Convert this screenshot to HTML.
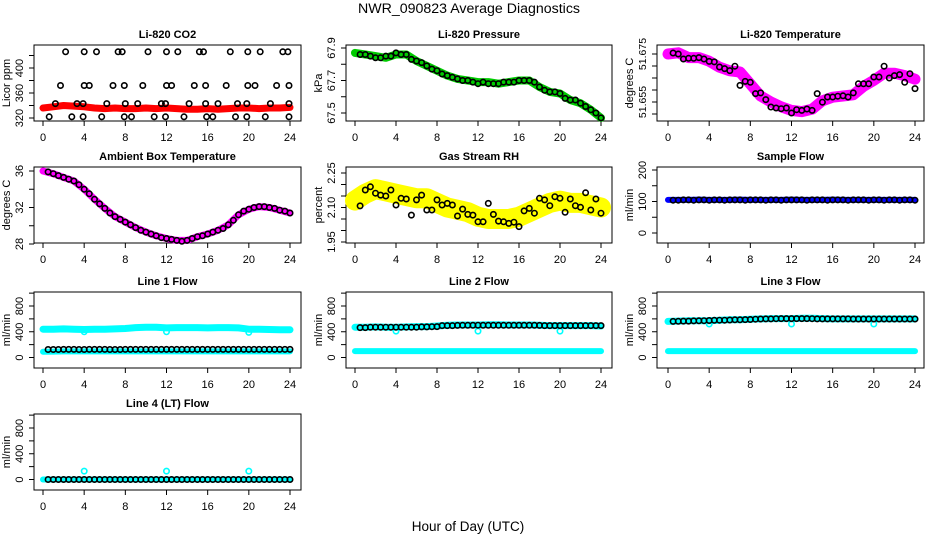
<!DOCTYPE html>
<html><head><meta charset="utf-8"><style>
html,body{margin:0;padding:0;background:#fff}
svg{display:block}
text{font-family:"Liberation Sans",sans-serif;fill:#000}
</style></head><body>
<svg id="chart" width="936" height="540" viewBox="0 0 936 540" xmlns="http://www.w3.org/2000/svg">
<rect width="936" height="540" fill="#fff"/>
<text x="469" y="13" font-size="13.5" text-anchor="middle" textLength="222" lengthAdjust="spacingAndGlyphs">NWR_090823  Average Diagnostics</text>
<text x="468" y="531" font-size="13.5" text-anchor="middle">Hour of Day (UTC)</text>
</svg>
<script>
// ---- data ----
const halfHours = [];
for (let k = 1; k <= 48; k++) halfHours.push(k * 0.5);
const hours = [];
for (let k = 0; k <= 24; k++) hours.push(k);
const xTicks = [0,4,8,12,16,20,24];

// CO2
const co2BlackX = [2.2,4,5.2,7.3,7.7,10.2,12,13.1,15.2,15.6,18.2,19.9,21.1,23.3,23.8,
  1.7,4,4.5,6.8,7.9,9.7,12,12.5,14.7,15.8,17.8,19.9,20.6,22.7,23.9,
  1.2,3.3,3.9,6.2,8,9.2,11.5,11.9,14.2,15.8,17,18.9,19.8,22.1,23.9,
  0.6,2.8,3.9,5.7,7.9,8.6,10.8,11.9,13.7,15.9,16.5,18.7,19.8,21.6,23.9];
const co2BlackY = [426,426,426,426,426,426,426,426,426,426,426,426,426,426,426,
  372,372,372,372,372,372,372,372,372,372,372,372,372,372,372,
  343,343,343,343,343,343,343,343,343,343,343,343,343,343,343,
  322,322,322,322,322,322,322,322,322,322,322,322,322,322,322];
const co2Band = [336,338,340,339,338,336,335,336,335,335,336,335,336,335,334,334,335,334,335,336,336,335,336,336,337];

// Pressure
const pressBlack = [67.86,67.86,67.85,67.84,67.84,67.85,67.85,67.87,67.86,67.86,67.83,67.82,67.81,67.79,67.77,67.76,
  67.74,67.73,67.72,67.71,67.70,67.70,67.69,67.68,67.69,67.68,67.68,67.68,67.69,67.69,67.69,67.70,
  67.70,67.70,67.69,67.66,67.64,67.63,67.63,67.62,67.59,67.58,67.58,67.56,67.54,67.52,67.50,67.47];
const pressBand = [67.87,67.86,67.85,67.84,67.86,67.86,67.82,67.79,67.76,67.73,67.71,67.70,67.69,67.69,67.68,67.69,67.70,67.70,67.66,67.63,67.62,67.58,67.56,67.52,67.47];

// Li-820 temperature
const tempBlack = [51.6754,51.6750,51.6729,51.6732,51.6732,51.6735,51.6729,51.6719,51.6717,51.6696,51.6689,51.6681,51.6699,51.6619,51.6636,51.6632,
  51.6585,51.6588,51.6560,51.6529,51.6525,51.6522,51.6525,51.6504,51.6518,51.6515,51.6521,51.6515,51.6585,51.6549,51.6571,51.6571,
  51.6574,51.6576,51.6571,51.6588,51.6626,51.6626,51.6626,51.6654,51.6654,51.6699,51.6650,51.6660,51.6664,51.6632,51.6668,51.6606];
const tempBand = [51.6750,51.6755,51.6735,51.6735,51.6720,51.6695,51.6680,51.6675,51.6625,51.6575,51.6550,51.6530,51.6515,51.6510,51.6520,51.6555,51.6570,51.6575,51.6580,51.6615,51.6640,51.6670,51.6670,51.6660,51.6645];

// Ambient box temperature
const ambBlack = [35.9,35.7,35.5,35.3,35.1,34.9,34.5,34.0,33.5,32.9,32.4,31.9,31.4,31.0,30.7,30.4,
  30.1,29.8,29.5,29.3,29.1,28.9,28.7,28.6,28.5,28.4,28.3,28.4,28.6,28.8,28.9,29.1,
  29.3,29.5,29.7,30.1,30.6,31.2,31.6,31.8,32.0,32.1,32.1,32.0,31.9,31.7,31.6,31.4];
const ambBand = [36.0,35.7,35.3,34.9,34.0,32.9,31.9,31.0,30.4,29.8,29.3,28.9,28.6,28.4,28.4,28.8,29.1,29.5,30.1,31.2,31.8,32.1,32.0,31.7,31.4];

// Gas stream RH
const rhBlack = [2.107,2.176,2.190,2.162,2.154,2.150,2.176,2.111,2.140,2.137,2.067,2.133,2.154,2.089,2.089,2.133,
  2.111,2.118,2.111,2.063,2.093,2.070,2.067,2.038,2.038,2.118,2.070,2.041,2.038,2.031,2.036,2.017,
  2.085,2.096,2.075,2.140,2.133,2.108,2.147,2.140,2.079,2.137,2.108,2.101,2.164,2.089,2.137,2.075];
const rhBand = [2.13,2.16,2.18,2.17,2.16,2.15,2.14,2.14,2.12,2.10,2.09,2.08,2.06,2.05,2.05,2.05,2.06,2.08,2.10,2.12,2.13,2.12,2.12,2.11,2.10];

// Sample flow
const sampleBlack = [104,104,105,105,104,105,105,104,105,105,104,105,105,105,104,105,
  105,105,104,105,105,104,105,105,105,105,104,105,105,105,104,105,
  105,105,104,105,105,105,104,105,105,104,105,105,104,105,105,104];
const sampleBand = [105,105,105,106,105,105,105,106,105,105,105,105,106,105,105,105,106,105,105,105,105,105,105,105,105];

// Line flows
const flow1Black = [125,125,125,126,126,126,125,125,126,126,126,126,125,125,125,126,
  126,126,126,126,126,126,126,126,126,126,126,126,126,126,126,126,
  126,126,126,126,126,126,126,126,126,126,126,126,126,126,126,126];
const flow1Up = [440,440,445,440,435,440,440,445,450,465,470,470,460,465,465,465,460,465,465,460,440,440,435,430,430];
const flow1Low = [90,92,95,95,95,95,95,95,95,95,95,95,95,95,95,95,95,95,95,95,95,95,95,95,95];
const flow1OutX = [4,12,20];
const flow1Out = [400,400,390];

const flow2Black = [465,465,470,470,470,470,470,470,470,470,470,470,475,475,478,480,
  495,495,495,498,500,500,500,502,500,500,500,500,500,500,500,500,
  500,500,500,498,495,495,495,495,495,495,495,495,495,495,495,495];
const flow2Up = [470,470,475,470,470,475,480,480,490,500,505,505,505,510,510,505,505,505,500,495,495,495,495,495,490];
const flow2Low = [100,100,100,100,100,100,100,100,100,100,100,100,100,100,100,100,100,100,100,100,100,100,100,100,100];
const flow2Out = [410,410,410];

const flow3Black = [560,562,565,565,568,570,572,575,578,580,580,582,585,585,588,590,
  595,598,600,600,602,605,605,605,605,605,605,602,600,600,600,600,
  600,600,600,598,598,598,598,598,598,598,598,598,598,598,598,598];
const flow3Up = [560,565,570,570,570,580,585,585,595,600,605,605,605,610,610,605,600,600,600,600,600,600,600,600,600];
const flow3Low = [100,100,100,100,100,100,100,100,100,100,100,100,100,100,100,100,100,100,100,100,100,100,100,100,100];
const flow3Out = [520,520,520];

const flow4Black = [0,0,0,0,0,0,0,0,0,0,0,0,0,0,0,0,0,0,0,0,0,0,0,0,0,0,0,0,0,0,0,0,0,0,0,0,0,0,0,0,0,0,0,0,0,0,0,0];
const flow4Band = [0,0,0,0,0,0,0,0,0,0,0,0,0,0,0,0,0,0,0,0,0,0,0,0,0];
const flow4Out = [130,130,130];

const flowTicks = [0,200,400,600,800,1000];
const flowLabels = [0,400,800];

// ---- drawing ----
const NS = "http://www.w3.org/2000/svg";
const svg = document.getElementById("chart");
const COLS = [{bx0:34,bx1:301,x0:43,x24:290},{bx0:346,bx1:612,x0:355,x24:601},{bx0:657,bx1:924,x0:668,x24:915}];
const ROWS = [45,167,292,414];
const BH = 76;

function mk(tag, attrs, parent) {
  const e = document.createElementNS(NS, tag);
  for (const k in attrs) e.setAttribute(k, attrs[k]);
  (parent || svg).appendChild(e);
  return e;
}

function makePanel(p) {
  const c = COLS[p.col], top = ROWS[p.row];
  const g = mk("g", {});
  
  
  const sx = h => c.x0 + (c.x24 - c.x0) * h / 24;
  const sy = v => top + p.p0 + (v - p.v0) * (p.p1 - p.p0) / (p.v1 - p.v0);
  const box = mk("rect", {x:c.bx0, y:top, width:c.bx1-c.bx0, height:BH, fill:"none", stroke:"#000", "stroke-width":1}, g);
  
  
  const t = mk("text", {x:(c.bx0+c.bx1)/2, y:top-7, "font-size":11, "font-weight":"bold", "text-anchor":"middle"}, g);
  t.textContent = p.title;
  
  
  const xa = mk("g", {}, g);
  
  
  const by = top + BH;
  mk("line", {x1:sx(0), x2:sx(24), y1:by, y2:by, stroke:"#000"}, xa);
  xTicks.forEach(v => {
    mk("line", {x1:sx(v), x2:sx(v), y1:by, y2:by+5, stroke:"#000"}, xa);
    const tl = mk("text", {x:sx(v), y:by+20, "font-size":11, "text-anchor":"middle"}, xa);
    tl.textContent = v;
    
    
  });
  const ya = mk("g", {}, g);
  
  
  const yl = Math.min(...p.ticks), yh = Math.max(...p.ticks);
  mk("line", {x1:c.bx0, x2:c.bx0, y1:sy(yl), y2:sy(yh), stroke:"#000"}, ya);
  p.ticks.forEach(v => mk("line", {x1:c.bx0-5, x2:c.bx0, y1:sy(v), y2:sy(v), stroke:"#000"}, ya));
  p.labels.forEach((v, i) => {
    const lx = c.bx0 - 11, ly = sy(v);
    const tl = mk("text", {x:lx, y:ly, "font-size":p.lfs||11, "text-anchor":"middle", transform:`rotate(-90 ${lx} ${ly})`}, ya);
    tl.textContent = p.labelText ? p.labelText[i] : v;
    
    
  });
  const yx = c.bx0 - 24, yy = top + BH/2;
  const yt = mk("text", {x:yx, y:yy, "font-size":11, "text-anchor":"middle", transform:`rotate(-90 ${yx} ${yy})`}, g);
  yt.textContent = p.ylab;
  
  
  return {g, sx, sy};
}

function band(P, xs, ys, color, w, name) {
  const pts = xs.map((x, i) => P.sx(x).toFixed(1) + "," + P.sy(ys[i]).toFixed(1)).join(" ");
  const pl = mk("polyline", {points:pts, fill:"none", stroke:color, "stroke-width":w, "stroke-linejoin":"round", "stroke-linecap":"round"}, P.g);
  
  
}
function dots(P, xs, ys, color, name, r) {
  const gg = mk("g", {}, P.g);
  
  
  xs.forEach((x, i) => {
    const c = mk("circle", {cx:P.sx(x).toFixed(1), cy:P.sy(ys[i]).toFixed(1), r:r||2.7, fill:"none", stroke:color, "stroke-width":1.6}, gg);
    
    
  });
}

let P = makePanel({name:"co2", title:"Li-820 CO2", ylab:"Licor ppm", col:0, row:0, v0:320, p0:73, v1:400, p1:23, ticks:[320,340,360,380,400,420], labels:[320,360,400]});
band(P, hours, co2Band, "#ff0000", 7, "co2-red-series");
dots(P, co2BlackX, co2BlackY, "#000", "co2-black-series");

P = makePanel({name:"pressure", title:"Li-820 Pressure", ylab:"kPa", col:1, row:0, v0:67.5, p0:68, v1:67.9, p1:3, ticks:[67.5,67.6,67.7,67.8,67.9], labels:[67.5,67.7,67.9]});
band(P, hours, pressBand, "#00cc00", 8, "pressure-green-series");
dots(P, halfHours, pressBlack, "#000", "pressure-black-series");

P = makePanel({name:"li820-temp", title:"Li-820 Temperature", ylab:"degrees C", col:2, row:0, v0:51.65, p0:69, v1:51.675, p1:9, ticks:[51.65,51.655,51.66,51.665,51.67,51.675], labels:[51.655,51.675], labelText:["51.655","51.675"], lfs:10.5});
band(P, hours, tempBand, "#ff00ff", 11, "li820-temp-magenta-series");
dots(P, halfHours, tempBlack, "#000", "li820-temp-black-series");

P = makePanel({name:"ambient", title:"Ambient Box Temperature", ylab:"degrees C", col:0, row:1, v0:28, p0:77, v1:36, p1:4, ticks:[28,30,32,34,36], labels:[28,32,36]});
band(P, hours, ambBand, "#ff00ff", 7, "ambient-magenta-series");
dots(P, halfHours, ambBlack, "#000", "ambient-black-series");

P = makePanel({name:"rh", title:"Gas Stream RH", ylab:"percent", col:1, row:1, v0:1.95, p0:75, v1:2.25, p1:6, ticks:[1.95,2.0,2.05,2.1,2.15,2.2,2.25], labels:[1.95,2.1,2.25], labelText:["1.95","2.10","2.25"]});
band(P, hours, rhBand, "#ffff00", 20, "rh-yellow-series");
dots(P, halfHours, rhBlack, "#000", "rh-black-series");

P = makePanel({name:"sample-flow", title:"Sample Flow", ylab:"ml/min", col:2, row:1, v0:0, p0:66, v1:200, p1:3, ticks:[0,50,100,150,200], labels:[0,100,200]});
band(P, hours, sampleBand, "#0000ff", 6, "sample-flow-blue-series");
dots(P, halfHours, sampleBlack, "#000", "sample-flow-black-series");

const fcfg = (name, title, col, row) => ({name, title, ylab:"ml/min", col, row, v0:0, p0:65.5, v1:800, p1:14, ticks:flowTicks, labels:flowLabels});
P = makePanel(fcfg("line1-flow", "Line 1 Flow", 0, 2));
band(P, hours, flow1Up, "#00ffff", 7, "line1-cyan-upper-series");
band(P, hours, flow1Low, "#00ffff", 6, "line1-cyan-lower-series");
dots(P, flow1OutX, flow1Out, "#00ffff", "line1-cyan-outliers");
dots(P, halfHours, flow1Black, "#000", "line1-black-series");

P = makePanel(fcfg("line2-flow", "Line 2 Flow", 1, 2));
band(P, hours, flow2Up, "#00ffff", 7, "line2-cyan-upper-series");
band(P, hours, flow2Low, "#00ffff", 6, "line2-cyan-lower-series");
dots(P, flow1OutX, flow2Out, "#00ffff", "line2-cyan-outliers");
dots(P, halfHours, flow2Black, "#000", "line2-black-series");

P = makePanel(fcfg("line3-flow", "Line 3 Flow", 2, 2));
band(P, hours, flow3Up, "#00ffff", 7, "line3-cyan-upper-series");
band(P, hours, flow3Low, "#00ffff", 6, "line3-cyan-lower-series");
dots(P, flow1OutX, flow3Out, "#00ffff", "line3-cyan-outliers");
dots(P, halfHours, flow3Black, "#000", "line3-black-series");

P = makePanel(fcfg("line4-flow", "Line 4 (LT) Flow", 0, 3));
band(P, hours, flow4Band, "#00ffff", 6, "line4-cyan-series");
dots(P, flow1OutX, flow4Out, "#00ffff", "line4-cyan-outliers");
dots(P, halfHours, flow4Black, "#000", "line4-black-series");
</script>
</body></html>
